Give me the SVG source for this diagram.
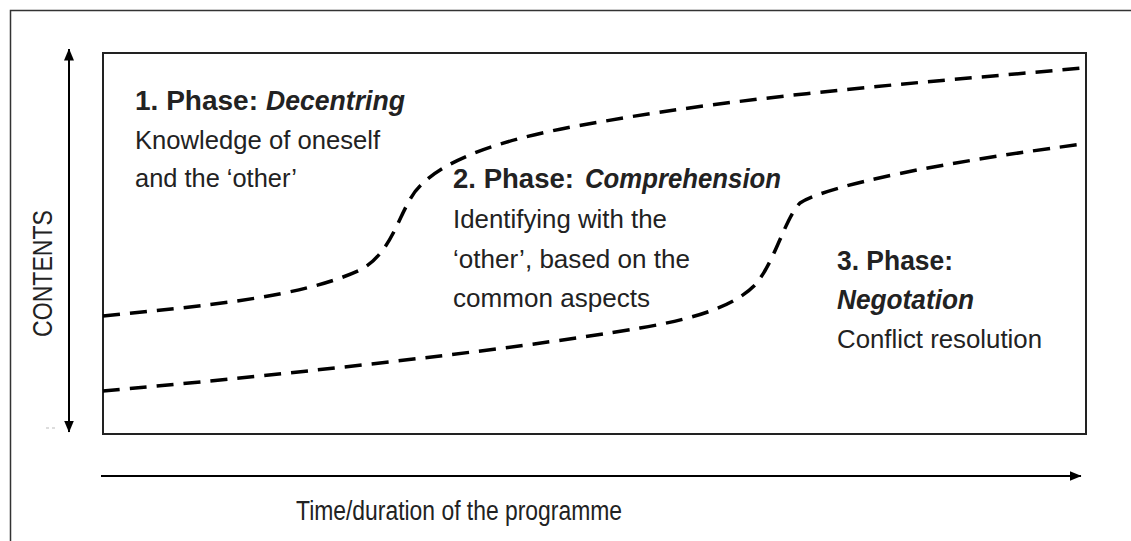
<svg xmlns="http://www.w3.org/2000/svg" width="1131" height="541" viewBox="0 0 1131 541">
  <style>
    .t { font-family: "Liberation Sans", Arial, sans-serif; font-size: 26px; fill: #222; }
    .b { font-weight: bold; font-size: 27px; }
    .bi { font-weight: bold; font-style: italic; font-size: 27px; }
    .dash { fill: none; stroke: #000; stroke-width: 3.5; stroke-dasharray: 17 10; stroke-linecap: butt; }
    .axis { fill: none; stroke: #000; stroke-width: 2; }
  </style>
  <defs>
    <marker id="ah" viewBox="0 0 12 10" refX="11.5" refY="5" markerWidth="12" markerHeight="10" markerUnits="userSpaceOnUse" orient="auto-start-reverse">
      <path d="M0,0 L12,5 L0,10 Z" fill="#000"/>
    </marker>
  </defs>
  <rect width="1131" height="541" fill="#fff"/>
  <g id="frame">
    <path d="M1131,10.5 H10.5 V541" fill="none" stroke="#333" stroke-width="1.5"/>
  </g>
  <g id="chart">
    <rect x="103" y="53" width="983" height="381" fill="none" stroke="#222" stroke-width="2"/>
  </g>
  <g id="connectors">
    <line class="axis" x1="69" y1="49" x2="69" y2="432" marker-start="url(#ah)" marker-end="url(#ah)"/>
    <line class="axis" x1="101" y1="476" x2="1081" y2="476" marker-end="url(#ah)"/>
    <path class="dash" d="M103,316 C200,306 300,298 360,270 C395,252 400,205 420,186 C445,160 500,138 600,122 C750,95 950,80 1083,68"/>
    <path class="dash" d="M103,391 C250,378 500,352 640,328 C700,318 735,305 755,285 C775,262 785,218 800,203 C820,190 900,168 1083,144"/>
    <line x1="46" y1="428" x2="55" y2="428" stroke="#bbb" stroke-width="1" stroke-dasharray="3 3"/>
  </g>
  <g id="axis-y-label">
    <text class="t" transform="translate(52,273.5) rotate(-90)" text-anchor="middle" textLength="127" lengthAdjust="spacingAndGlyphs" style="font-size:28px">CONTENTS</text>
  </g>
  <g id="axis-x-label">
    <text class="t" x="296" y="520" textLength="326" lengthAdjust="spacingAndGlyphs" style="font-size:27px">Time/duration of the programme</text>
  </g>
  <g id="phase1">
    <text class="t b" x="135" y="110" textLength="123" lengthAdjust="spacingAndGlyphs">1. Phase:</text>
    <text class="t bi" x="266" y="110" textLength="139" lengthAdjust="spacingAndGlyphs">Decentring</text>
    <text class="t" x="135" y="149" textLength="245" lengthAdjust="spacingAndGlyphs">Knowledge of oneself</text>
    <text class="t" x="135" y="187" textLength="162" lengthAdjust="spacingAndGlyphs">and the ‘other’</text>
  </g>
  <g id="phase2">
    <text class="t b" x="453" y="188" textLength="121" lengthAdjust="spacingAndGlyphs">2. Phase:</text>
    <text class="t bi" x="585" y="188" textLength="196" lengthAdjust="spacingAndGlyphs">Comprehension</text>
    <text class="t" x="453" y="228" textLength="214" lengthAdjust="spacingAndGlyphs">Identifying with the</text>
    <text class="t" x="453" y="268" textLength="237" lengthAdjust="spacingAndGlyphs">‘other’, based on the</text>
    <text class="t" x="453" y="307" textLength="197" lengthAdjust="spacingAndGlyphs">common aspects</text>
  </g>
  <g id="phase3">
    <text class="t b" x="837" y="270" textLength="116" lengthAdjust="spacingAndGlyphs">3. Phase:</text>
    <text class="t bi" x="837" y="309" textLength="137" lengthAdjust="spacingAndGlyphs">Negotation</text>
    <text class="t" x="837" y="348" textLength="205" lengthAdjust="spacingAndGlyphs">Conflict resolution</text>
  </g>
</svg>
